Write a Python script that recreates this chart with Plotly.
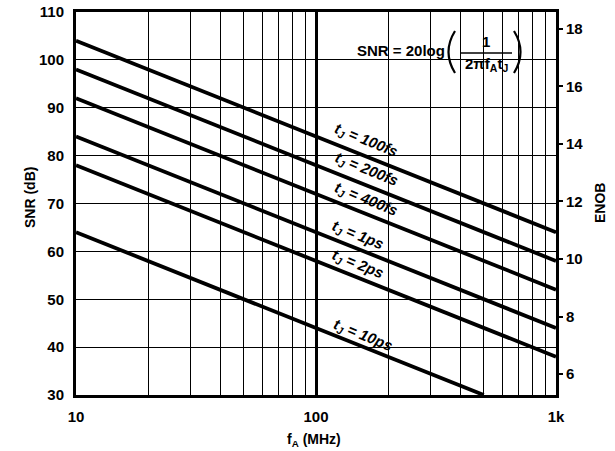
import plotly.graph_objects as go

# ---------------- data ----------------
jitter_labels = ["100fs", "200fs", "400fs", "1ps", "2ps", "10ps"]
freq_start_mhz = [10, 10, 10, 10, 10, 10]
freq_end_mhz = [1000, 1000, 1000, 1000, 1000, 500]
snr_start_db = [104, 98, 92, 84, 78, 64]
snr_end_db = [64, 58, 52, 44, 38, 30]

x_tick_vals = [10, 100, 1000]
x_tick_text = ["10", "100", "1k"]
x_minor_vals = [20, 30, 40, 50, 60, 70, 80, 90, 200, 300, 400, 500, 600, 700, 800, 900]
snr_ticks = [30, 40, 50, 60, 70, 80, 90, 100, 110]
enob_ticks = [6, 8, 10, 12, 14, 16, 18]

# ---------------- layout helpers (pixel -> paper) ----------------
W, H = 615, 451
L, R, T, B = 76, 556, 12, 395


def px(x):
    return (x - L) / (R - L)


def py(y):
    return (B - y) / (B - T)


FONT = "Liberation Sans, Arial, sans-serif"

fig = go.Figure()
for lab, x0, x1, y0, y1 in zip(jitter_labels, freq_start_mhz, freq_end_mhz, snr_start_db, snr_end_db):
    fig.add_trace(go.Scatter(x=[x0, x1], y=[y0, y1], mode="lines",
                             line=dict(color="black", width=3.8),
                             name=lab, showlegend=False, hoverinfo="skip"))
# invisible trace to anchor the ENOB axis
fig.add_trace(go.Scatter(x=[10], y=[enob_ticks[0]], yaxis="y2", mode="markers",
                         marker=dict(opacity=0), showlegend=False, hoverinfo="skip"))

shapes = []
# white boxes that interrupt the grid behind the labels
for (x0, x1, y0, y1) in [(325, 408, 112, 293), (325, 408, 310, 393), (350, 529, 15, 80)]:
    shapes.append(dict(type="rect", xref="paper", yref="paper",
                       x0=px(x0), x1=px(x1), y0=py(y1), y1=py(y0),
                       fillcolor="white", line=dict(width=0), layer="between"))
# fraction bar
shapes.append(dict(type="line", xref="paper", yref="paper",
                   x0=px(460), x1=px(512), y0=py(53), y1=py(53),
                   line=dict(color="black", width=1.5)))
# parentheses
shapes.append(dict(type="path", xref="paper", yref="paper",
                   path=f"M {px(455)},{py(31)} Q {px(442)},{py(52)} {px(455)},{py(73)}",
                   line=dict(color="black", width=2.2)))
shapes.append(dict(type="path", xref="paper", yref="paper",
                   path=f"M {px(514)},{py(31)} Q {px(527)},{py(52)} {px(514)},{py(73)}",
                   line=dict(color="black", width=2.2)))

annotations = []
label_pos = [(366, 140), (366, 170), (366, 199), (358, 235), (358, 264), (363, 335)]
for lab, (x, y) in zip(jitter_labels, label_pos):
    annotations.append(dict(xref="paper", yref="paper", x=px(x), y=py(y),
                            text=f"<b><i>t<sub>J</sub> = {lab}</i></b>", showarrow=False,
                            textangle=22, font=dict(family=FONT, size=15, color="black"),
                            xanchor="center", yanchor="middle"))
# formula
annotations.append(dict(xref="paper", yref="paper", x=px(401), y=py(50),
                        text="<b>SNR = 20log</b>", showarrow=False,
                        font=dict(family=FONT, size=15, color="black"),
                        xanchor="center", yanchor="middle"))
annotations.append(dict(xref="paper", yref="paper", x=px(486), y=py(42),
                        text="<b>1</b>", showarrow=False,
                        font=dict(family=FONT, size=15, color="black"),
                        xanchor="center", yanchor="middle"))
annotations.append(dict(xref="paper", yref="paper", x=px(486), y=py(64),
                        text="<b>2πf<sub>A</sub>t<sub>J</sub></b>", showarrow=False,
                        font=dict(family=FONT, size=15, color="black"),
                        xanchor="center", yanchor="middle"))
# axis titles
annotations.append(dict(xref="paper", yref="paper", x=px(30), y=py(198),
                        text="<b>SNR (dB)</b>", showarrow=False, textangle=-90,
                        font=dict(family=FONT, size=14, color="black"),
                        xanchor="center", yanchor="middle"))
annotations.append(dict(xref="paper", yref="paper", x=px(600), y=py(203),
                        text="<b>ENOB</b>", showarrow=False, textangle=-90,
                        font=dict(family=FONT, size=14, color="black"),
                        xanchor="center", yanchor="middle"))
annotations.append(dict(xref="paper", yref="paper", x=px(314), y=py(440),
                        text="<b>f<sub>A</sub> (MHz)</b>", showarrow=False,
                        font=dict(family=FONT, size=14, color="black"),
                        xanchor="center", yanchor="middle"))

fig.update_layout(
    width=W, height=H,
    margin=dict(l=L, r=W - R, t=T, b=H - B, pad=0, autoexpand=False),
    paper_bgcolor="white", plot_bgcolor="white",
    showlegend=False,
    font=dict(family=FONT, size=15, color="black"),
    xaxis=dict(type="log", range=[1, 3], tickvals=x_tick_vals, ticktext=x_tick_text,
               tickfont=dict(family=FONT, size=15, color="black", weight="bold"),
               showgrid=True, gridcolor="black", gridwidth=2.6,
               showline=True, linecolor="black", linewidth=3, mirror=True,
               ticks="", zeroline=False, ticklabelstandoff=6, automargin=False,
               minor=dict(tickvals=x_minor_vals, showgrid=True, gridcolor="black",
                          gridwidth=1.3, ticks="")),
    yaxis=dict(range=[30, 110], tickvals=snr_ticks,
               tickfont=dict(family=FONT, size=15, color="black", weight="bold"),
               showgrid=True, gridcolor="black", gridwidth=1.3,
               showline=True, linecolor="black", linewidth=3, mirror=True,
               ticks="", zeroline=False, ticklabelstandoff=6, automargin=False),
    yaxis2=dict(overlaying="y", side="right", range=[5.27, 18.59], tickvals=enob_ticks,
                tickfont=dict(family=FONT, size=15, color="black", weight="bold"),
                showgrid=False, zeroline=False, showline=False, automargin=False,
                ticks="outside", ticklen=6, tickwidth=1.5, tickcolor="black"),
    shapes=shapes,
    annotations=annotations,
)

fig.write_html("out.html", config={"displayModeBar": False},
               post_script="document.body.style.margin='0';document.body.style.padding='0';")
